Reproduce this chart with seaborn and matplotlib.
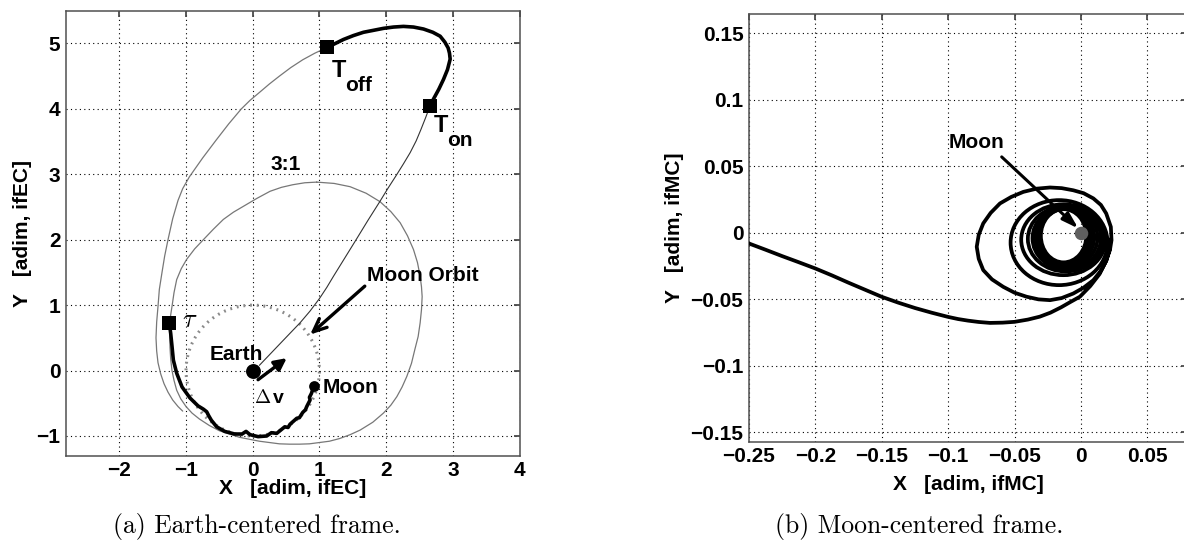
import matplotlib
matplotlib.use("Agg")
import matplotlib.pyplot as plt
from matplotlib.patches import Circle, Ellipse
from matplotlib.ticker import FuncFormatter
import seaborn as sns

# ---------------- Earth-centred frame (adim units) ----------------
# coast arc from Earth to the thrust-on point
coast_out_x = [0.10, 0.25, 0.40, 0.55, 0.71, 0.86, 1.00, 1.11, 1.21, 1.38, 1.55, 1.73,
               1.91, 2.03, 2.15, 2.26, 2.36, 2.45, 2.52, 2.59, 2.66]
coast_out_y = [0.08, 0.24, 0.40, 0.56, 0.73, 0.91, 1.10, 1.27, 1.44, 1.72, 2.00, 2.30,
               2.59, 2.79, 2.98, 3.16, 3.33, 3.51, 3.68, 3.86, 4.05]
# thrust arc T_on -> T_off
thrust_x = [2.66, 2.71, 2.79, 2.86, 2.92, 2.96, 2.95, 2.93, 2.88, 2.81, 2.70, 2.56,
            2.41, 2.26, 2.11, 1.96, 1.81, 1.66, 1.51, 1.36, 1.24, 1.12]
thrust_y = [4.05, 4.15, 4.30, 4.45, 4.60, 4.76, 4.85, 4.93, 5.02, 5.11, 5.17, 5.22,
            5.25, 5.26, 5.25, 5.23, 5.20, 5.17, 5.12, 5.06, 5.00, 4.94]
# coast arc after T_off
coast_back_x = [1.12, 0.93, 0.75, 0.57, 0.40, 0.25, 0.10, -0.04, -0.17, -0.36, -0.55,
                -0.75, -0.95, -1.05, -1.12, -1.20, -1.27, -1.32, -1.36, -1.40, -1.42,
                -1.44, -1.45, -1.44, -1.42, -1.38, -1.33, -1.27, -1.20, -1.12, -1.05]
coast_back_y = [4.94, 4.85, 4.75, 4.63, 4.50, 4.38, 4.25, 4.13, 4.00, 3.77, 3.52,
                3.25, 2.96, 2.78, 2.60, 2.32, 2.00, 1.75, 1.50, 1.24, 0.98,
                0.74, 0.50, 0.30, 0.12, -0.05, -0.20, -0.33, -0.45, -0.55, -0.62]
# 3:1 resonant orbit
res_x = [0.96, 1.22, 1.46, 1.70, 1.91, 2.07, 2.21, 2.32, 2.41, 2.47, 2.51, 2.53, 2.54,
         2.53, 2.51, 2.48, 2.43, 2.38, 2.31, 2.24, 2.16, 2.07, 1.96, 1.80, 1.61, 1.46,
         1.30, 1.15, 1.00, 0.85, 0.70, 0.55, 0.40, 0.25, 0.10, -0.05, -0.20, -0.35,
         -0.50, -0.65, -0.80, -0.91, -1.00, -1.08, -1.14, -1.18, -1.21, -1.23, -1.24,
         -1.245, -1.24, -1.23, -1.21, -1.18, -1.14, -1.07, -0.99, -0.87, -0.74, -0.59,
         -0.44, -0.29, -0.14, 0.06, 0.26, 0.43, 0.60, 0.78, 0.96]
res_y = [2.88, 2.86, 2.81, 2.71, 2.58, 2.43, 2.26, 2.06, 1.85, 1.65, 1.44, 1.28, 1.13,
         0.93, 0.73, 0.52, 0.32, 0.11, -0.09, -0.25, -0.40, -0.53, -0.65, -0.79, -0.91,
         -0.98, -1.04, -1.08, -1.10, -1.12, -1.125, -1.125, -1.12, -1.10, -1.08, -1.05,
         -1.02, -0.97, -0.92, -0.84, -0.74, -0.65, -0.55, -0.43, -0.30, -0.15, 0.00,
         0.18, 0.35, 0.54, 0.72, 0.85, 0.98, 1.19, 1.39, 1.56, 1.70, 1.86, 2.00, 2.16,
         2.31, 2.42, 2.51, 2.63, 2.74, 2.80, 2.84, 2.87, 2.88]
# low-thrust capture arc from tau to the Moon
capture_x = [-1.25, -1.23, -1.21, -1.19, -1.14, -1.06, -0.94, -0.82, -0.74, -0.69, -0.66,
             -0.62, -0.54, -0.42, -0.27, -0.16, -0.10, -0.04, 0.08, 0.21, 0.28, 0.36,
             0.48, 0.53, 0.56, 0.66, 0.70, 0.75, 0.79, 0.81, 0.86, 0.85, 0.88, 0.92]
capture_y = [0.72, 0.57, 0.37, 0.16, -0.04, -0.25, -0.42, -0.54, -0.59, -0.63, -0.69,
             -0.76, -0.86, -0.93, -0.97, -0.97, -0.93, -0.98, -1.01, -1.00, -0.95, -0.96,
             -0.86, -0.87, -0.82, -0.73, -0.72, -0.64, -0.60, -0.55, -0.45, -0.41, -0.35, -0.23]
moon_orbit_radius = 1.0

events_x = [-1.25, 2.66, 1.12]          # tau, T_on, T_off
events_y = [0.72, 4.05, 4.94]
earth_xy = (0.0, 0.0)
moon_xy = (0.92, -0.23)

# ---------------- Moon-centred frame (adim units) ----------------
approach_x = [-0.2500, -0.2375, -0.2250, -0.2125, -0.2000, -0.1875, -0.1750, -0.1625,
              -0.1500, -0.1375, -0.1250, -0.1125, -0.1000, -0.0925, -0.0850, -0.0770,
              -0.0685, -0.0590, -0.0500, -0.0400, -0.0310, -0.0230, -0.0150, -0.0080,
              -0.0008, 0.0070, 0.0140, 0.0185, 0.0218, 0.0230, 0.0225, 0.0190, 0.0150,
              0.0093, 0.0020, -0.0058, -0.0145, -0.0233, -0.0335, -0.0434, -0.0525,
              -0.0610, -0.0680, -0.0736, -0.0770, -0.0785, -0.0770, -0.0736, -0.0670,
              -0.0585, -0.0500, -0.0410, -0.0320, -0.0233, -0.0145, -0.0058, 0.0020,
              0.0093, 0.0150, 0.0193, 0.0215, 0.0220]
approach_y = [-0.0080, -0.0127, -0.0175, -0.0221, -0.0268, -0.0320, -0.0375, -0.0428,
              -0.0481, -0.0525, -0.0565, -0.0600, -0.0632, -0.0648, -0.0660, -0.0670,
              -0.0677, -0.0675, -0.0669, -0.0652, -0.0630, -0.0600, -0.0560, -0.0520,
              -0.0480, -0.0400, -0.0310, -0.0220, -0.0130, -0.0055, 0.0045, 0.0146,
              0.0210, 0.0259, 0.0298, 0.0320, 0.0336, 0.0341, 0.0332, 0.0308, 0.0270,
              0.0221, 0.0150, 0.0071, -0.0015, -0.0105, -0.0195, -0.0280, -0.0350,
              -0.0406, -0.0450, -0.0480, -0.0500, -0.0506, -0.0490, -0.0456, -0.0412,
              -0.0356, -0.0285, -0.0205, -0.0125, -0.0050]
# later revolutions: extents of each loop
loop_left = [-0.0530, -0.0450, -0.0400, -0.0365, -0.0345, -0.0330, -0.0320, -0.0310, -0.0302]
loop_right = [0.0200, 0.0185, 0.0170, 0.0150, 0.0125, 0.0100, 0.0078, 0.0058, 0.0040]
loop_bottom = [-0.0393, -0.0318, -0.0290, -0.0275, -0.0260, -0.0250, -0.0240, -0.0230, -0.0222]
loop_top = [0.0246, 0.0215, 0.0200, 0.0195, 0.0190, 0.0186, 0.0183, 0.0180, 0.0178]

ticks_a_x = [-2, -1, 0, 1, 2, 3, 4]
ticks_a_y = [-1, 0, 1, 2, 3, 4, 5]
ticks_b_x = [-0.25, -0.2, -0.15, -0.1, -0.05, 0, 0.05]
ticks_b_y = [-0.15, -0.1, -0.05, 0, 0.05, 0.1, 0.15]

sns.set_theme(style="white")
plt.rcParams["font.family"] = ["Liberation Sans", "DejaVu Sans"]
plt.rcParams["font.weight"] = "bold"
plt.rcParams["axes.unicode_minus"] = True

fig = plt.figure(figsize=(11.84, 5.54), dpi=100)
axA = fig.add_axes([0.0557, 0.1776, 0.3831, 0.8031])
axB = fig.add_axes([0.6326, 0.2027, 0.3701, 0.7720])

fmt = FuncFormatter(lambda v, p: ("%g" % v).replace("-", "\u2212"))
FS = 15


def style(ax, xt, yt):
    ax.set_xticks(xt)
    ax.set_yticks(yt)
    ax.xaxis.set_major_formatter(fmt)
    ax.yaxis.set_major_formatter(fmt)
    ax.set_axisbelow(True)
    ax.grid(True, color="black", linestyle=(0, (1, 3)), linewidth=0.8)
    ax.tick_params(direction="in", length=4, top=True, right=True, labelsize=FS,
                   pad=4, color="#444444", labelcolor="black")
    for lab in ax.get_xticklabels() + ax.get_yticklabels():
        lab.set_fontweight("bold")
    for s in ax.spines.values():
        s.set_color("#505050")
        s.set_linewidth(1.1)


def curve(ax, x, y, color, lw, z=2):
    sns.lineplot(x=x, y=y, sort=False, estimator=None, color=color, linewidth=lw,
                 ax=ax, zorder=z)


# ---- panel (a) ----
axA.add_patch(Circle(earth_xy, moon_orbit_radius, fill=False, edgecolor="#8a8a8a",
                     linewidth=2.2, linestyle=(0, (0.6, 1.6)), zorder=1.5))
curve(axA, res_x, res_y, "#777777", 0.9)
curve(axA, coast_back_x, coast_back_y, "#777777", 0.9)
curve(axA, coast_out_x, coast_out_y, "#333333", 0.8)
curve(axA, thrust_x, thrust_y, "black", 2.6, 3)
curve(axA, capture_x, capture_y, "black", 2.6, 3)
sns.scatterplot(x=events_x, y=events_y, marker="s", s=95, color="black",
                edgecolor="black", linewidth=0, ax=axA, zorder=5)
sns.scatterplot(x=[earth_xy[0]], y=[earth_xy[1]], marker="o", s=115, color="black",
                linewidth=0, ax=axA, zorder=5)
sns.scatterplot(x=[moon_xy[0]], y=[moon_xy[1]], marker="o", s=60, color="black",
                linewidth=0, ax=axA, zorder=5)

axA.annotate("", xy=(0.86, 0.55), xytext=(1.68, 1.29),
             arrowprops=dict(arrowstyle="->,head_length=0.8,head_width=0.35",
                             lw=2.4, color="black", shrinkA=0, shrinkB=0))
axA.annotate("", xy=(0.51, 0.19), xytext=(0.08, -0.14),
             arrowprops=dict(arrowstyle="-|>,head_length=0.6,head_width=0.3",
                             lw=2.4, color="black", shrinkA=0, shrinkB=0))

tk = dict(color="black", fontweight="bold")
axA.text(-0.25, 0.25, "Earth", fontsize=FS, ha="center", va="center", **tk)
axA.text(1.05, -0.26, "Moon", fontsize=FS, ha="left", va="center", **tk)
axA.text(1.71, 1.46, "Moon Orbit", fontsize=FS, ha="left", va="center", **tk)
axA.text(0.49, 3.15, "3:1", fontsize=FS, ha="center", va="center", **tk)
axA.text(1.18, 4.48, "T", fontsize=17, ha="left", va="baseline", **tk)
axA.text(1.38, 4.27, "off", fontsize=15, ha="left", va="baseline", **tk)
axA.text(2.71, 3.64, "T", fontsize=17, ha="left", va="baseline", **tk)
axA.text(2.92, 3.43, "on", fontsize=15, ha="left", va="baseline", **tk)
axA.text(-0.95, 0.77, r"$\tau$", fontsize=19, ha="center", va="center",
         math_fontfamily="cm", color="black")
axA.text(0.02, -0.50, r"$\Delta$", fontsize=14, ha="left", va="baseline",
         math_fontfamily="cm", color="black")
axA.text(0.30, -0.50, "v", fontsize=14, ha="left", va="baseline", **tk)

axA.set_xlim(-2.8, 4.0)
axA.set_ylim(-1.3, 5.5)
style(axA, ticks_a_x, ticks_a_y)
axA.set_xlabel("X   [adim, ifEC]", fontsize=FS, fontweight="bold", color="black")
axA.set_ylabel("Y   [adim, ifEC]", fontsize=FS, fontweight="bold", color="black")
axA.xaxis.set_label_coords(0.5, -0.075)
axA.yaxis.set_label_coords(-0.096, 0.5)
axA.xaxis.label.set_va("center")
axA.yaxis.label.set_va("center")

# ---- panel (b) ----
curve(axB, approach_x, approach_y, "black", 2.7, 3)
for l, r, b, t in zip(loop_left, loop_right, loop_bottom, loop_top):
    axB.add_patch(Ellipse(((l + r) / 2, (b + t) / 2), r - l, t - b, fill=False,
                          edgecolor="black", linewidth=2.7, zorder=3))
sns.scatterplot(x=[0.0], y=[0.0], marker="o", s=95, color="#5f5f5f", linewidth=0,
                ax=axB, zorder=6)
axB.annotate("", xy=(-0.002, 0.0033), xytext=(-0.0597, 0.0571),
             arrowprops=dict(arrowstyle="-|>,head_length=0.8,head_width=0.25",
                             lw=2.2, color="black", shrinkA=0, shrinkB=0), zorder=7)
axB.text(-0.100, 0.068, "Moon", fontsize=FS, ha="left", va="center", **tk)

axB.set_xlim(-0.25, 0.08)
axB.set_ylim(-0.157, 0.1645)
style(axB, ticks_b_x, ticks_b_y)
axB.set_xlabel("X   [adim, ifMC]", fontsize=FS, fontweight="bold", color="black")
axB.set_ylabel("Y   [adim, ifMC]", fontsize=FS, fontweight="bold", color="black")
axB.xaxis.set_label_coords(0.5, -0.099)
axB.yaxis.set_label_coords(-0.170, 0.5)
axB.xaxis.label.set_va("center")
axB.yaxis.label.set_va("center")

# sub-figure captions
fig.text(257 / 1184, 1 - 527 / 554, "(a) Earth-centered frame.", fontfamily="cmr10",
         fontsize=18.5, fontweight="normal", ha="center", va="center", color="black")
fig.text(919 / 1184, 1 - 527 / 554, "(b) Moon-centered frame.", fontfamily="cmr10",
         fontsize=18.5, fontweight="normal", ha="center", va="center", color="black")

fig.savefig("out.png", dpi=100, facecolor="white")
